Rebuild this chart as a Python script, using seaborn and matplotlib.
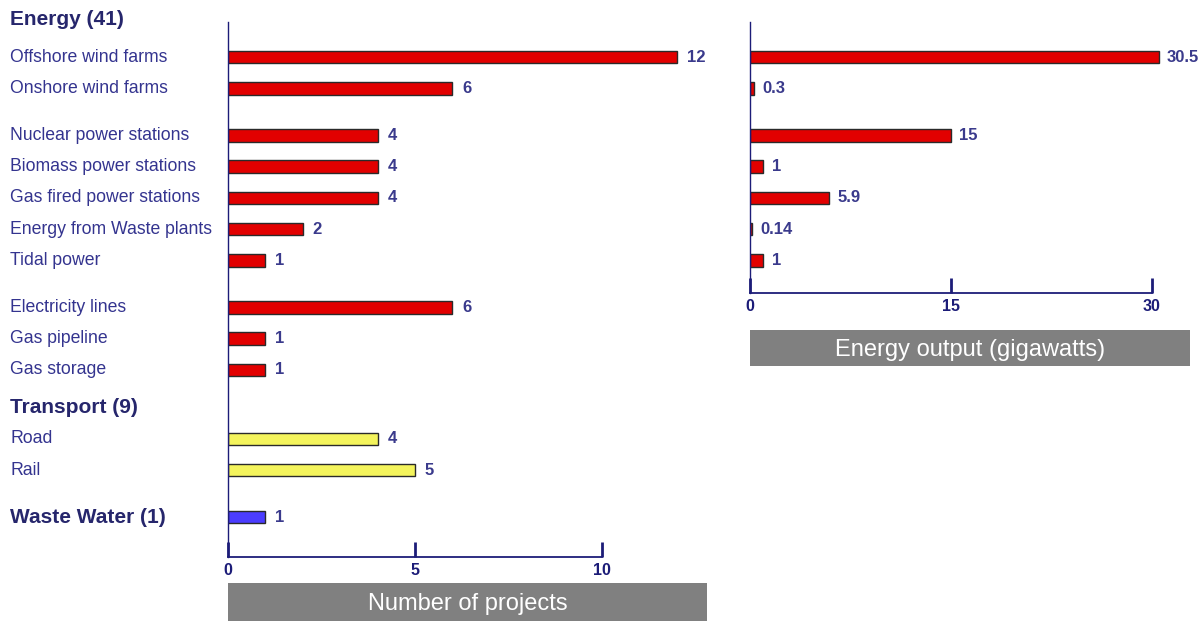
import pandas as pd
import numpy as np
import seaborn as sns
import matplotlib.pyplot as plt
from matplotlib.patches import Rectangle
from matplotlib.transforms import blended_transform_factory

# data
labels = ['Offshore wind farms', 'Onshore wind farms', 'Nuclear power stations',
          'Biomass power stations', 'Gas fired power stations', 'Energy from Waste plants',
          'Tidal power', 'Electricity lines', 'Gas pipeline', 'Gas storage',
          'Road', 'Rail', 'Waste Water (1)']
groups = ['Energy'] * 10 + ['Transport'] * 2 + ['Waste Water']
projects = [12, 6, 4, 4, 4, 2, 1, 6, 1, 1, 4, 5, 1]
output_gw = [30.5, 0.3, 15, 1, 5.9, 0.14, 1]
output_text = ['30.5', '0.3', '15', '1', '5.9', '0.14', '1']
headers = ['Energy (41)', 'Transport (9)']

# layout: row positions (blank gaps between blocks)
row_pos = [0, 1, 2.5, 3.5, 4.5, 5.5, 6.5, 8, 9, 10, 12.2, 13.2, 14.7]
header_pos = [-1.2, 11.2]

navy = '#1c1c78'
label_col = '#34348f'
head_col = '#26266c'
val_col = '#3a3a8c'
palette = {'Energy': '#e20000', 'Transport': '#f4f45c', 'Waste Water': '#4b3cff'}

df = pd.DataFrame({'label': labels, 'group': groups, 'projects': projects, 'pos': row_pos})
df_out = df.iloc[:len(output_gw)].copy()
df_out['output'] = output_gw

sns.set_style('white')
plt.rcParams['font.family'] = ['Liberation Sans', 'DejaVu Sans']

W, H = 1203, 621
fig = plt.figure(figsize=(W / 100, H / 100), dpi=100)

def fx(px):
    return px / W

def fy(px):
    return 1 - px / H

unit = 31.3
ax1 = fig.add_axes([fx(228), fy(557), fx(707) - fx(228), fy(22) - fy(557)])
ax2 = fig.add_axes([fx(750), fy(293), fx(1190) - fx(750), fy(22) - fy(293)])

sns.barplot(data=df, x='projects', y='pos', hue='group', palette=palette, orient='y',
            native_scale=True, width=0.4, dodge=False, saturation=1, edgecolor='#2a2a2a',
            linewidth=1, legend=False, ax=ax1)
sns.barplot(data=df_out, x='output', y='pos', hue='group', palette=palette, orient='y',
            native_scale=True, width=0.4, dodge=False, saturation=1, edgecolor='#2a2a2a',
            linewidth=1, legend=False, ax=ax2)

ax1.set_xlim(0, (707 - 228) / 37.4)
ax1.set_ylim((557 - 57) / unit, (22 - 57) / unit)
ax2.set_xlim(0, (1190 - 750) / 13.4)
ax2.set_ylim((293 - 57) / unit, (22 - 57) / unit)

for ax, ticks in [(ax1, [0, 5, 10]), (ax2, [0, 15, 30])]:
    ax.set_xticks(ticks)
    ax.set_xticklabels([str(t) for t in ticks], fontsize=11.5, fontweight='bold', color=navy)
    ax.tick_params(axis='x', bottom=True, direction='in', length=11, width=2,
                   color=navy, pad=4)
    ax.set_yticks([])
    ax.set_xlabel('')
    ax.set_ylabel('')
    for s in ['top', 'right']:
        ax.spines[s].set_visible(False)
    ax.spines['left'].set_color(navy)
    ax.spines['left'].set_linewidth(1)
    ax.spines['bottom'].set_color(navy)
    ax.spines['bottom'].set_linewidth(1.3)
    ax.spines['bottom'].set_bounds(0, ticks[-1])
    ax.patch.set_alpha(0)

# value labels
for v, p in zip(projects, row_pos):
    ax1.annotate(str(v), (v, p), xytext=(7, 0), textcoords='offset points',
                 va='center', ha='left', fontsize=12, fontweight='bold', color=val_col)
for v, t, p in zip(output_gw, output_text, row_pos):
    ax2.annotate(t, (v, p), xytext=(6, 0), textcoords='offset points',
                 va='center', ha='left', fontsize=12, fontweight='bold', color=val_col)

# category labels on the left
tr = blended_transform_factory(fig.transFigure, ax1.transData)
for lab, p, g in zip(labels, row_pos, groups):
    if g == 'Waste Water':
        ax1.text(fx(10), p, lab, transform=tr, va='center', ha='left', fontsize=15,
                 fontweight='bold', color=head_col, clip_on=False)
    else:
        ax1.text(fx(10), p, lab, transform=tr, va='center', ha='left', fontsize=12.7,
                 color=label_col, clip_on=False)
for h, p in zip(headers, header_pos):
    ax1.text(fx(10), p, h, transform=tr, va='center', ha='left', fontsize=15,
             fontweight='bold', color=head_col, clip_on=False)

# grey axis title boxes
for (x0, x1, y0, y1, title) in [(228, 707, 583, 621, 'Number of projects'),
                                (750, 1190, 330, 366, 'Energy output (gigawatts)')]:
    fig.patches.append(Rectangle((fx(x0), fy(y1)), fx(x1) - fx(x0), fy(y0) - fy(y1),
                                 transform=fig.transFigure, facecolor='#808080',
                                 edgecolor='none'))
    fig.text((fx(x0) + fx(x1)) / 2, (fy(y0) + fy(y1)) / 2 - 0.003, title, ha='center',
             va='center', fontsize=17, color='white')

fig.savefig('out.png', dpi=100)
